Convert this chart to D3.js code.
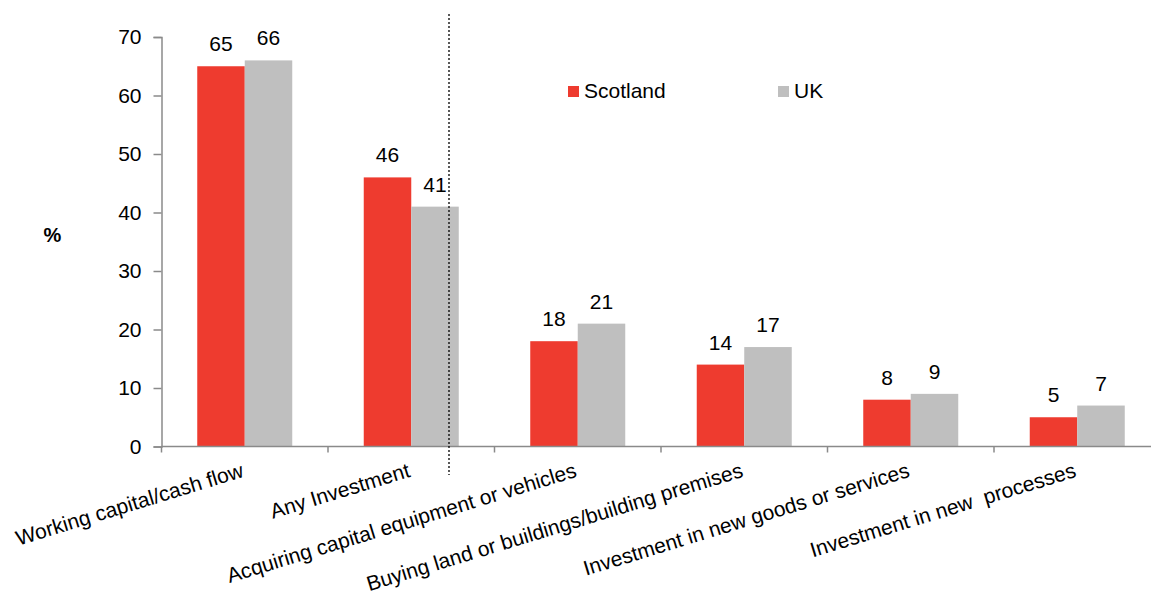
<!DOCTYPE html>
<html><head><meta charset="utf-8">
<script src="https://cdn.jsdelivr.net/npm/d3@7"></script>
<style>body{margin:0;background:#fff}svg{display:block;font-family:"Liberation Sans",Arial,sans-serif}</style>
</head><body>
<svg id="c" width="1151" height="595"></svg>
<script>
const categories = ["Working capital/cash flow","Any Investment","Acquiring capital equipment or vehicles","Buying land or buildings/building premises","Investment in new goods or services","Investment in new  processes"];
const seriesNames = ["Scotland","UK"];
const scotland = [65,46,18,14,8,5];
const uk = [66,41,21,17,9,7];
const yTicks = [0,10,20,30,40,50,60,70];
const colors = ["#EE3B2F","#BFBFBF"];

const svg = d3.select("#c");
const x0 = 161.5, bandW = 166.5;
const x = d3.scaleBand().domain(categories).range([x0, x0 + bandW*categories.length]).paddingInner(0).paddingOuter(0);
const xs = d3.scaleBand().domain(seriesNames).range([0, bandW]).paddingInner(0).paddingOuter(0.7526);
const y = d3.scaleLinear().domain([0,70]).range([446.5,37]);
const axisCol = "#8A8A8A";
const fs = 21;

// bars
const data = [scotland, uk];
data.forEach((vals, si) => {
  svg.append("g").selectAll("rect").data(vals).join("rect")
    .attr("x", (d,i) => x(categories[i]) + xs(seriesNames[si]))
    .attr("width", xs.bandwidth())
    .attr("y", d => y(d))
    .attr("height", d => y(0) - y(d))
    .attr("fill", colors[si]);
  svg.append("g").selectAll("text").data(vals).join("text")
    .attr("x", (d,i) => x(categories[i]) + xs(seriesNames[si]) + xs.bandwidth()/2)
    .attr("y", d => y(d) - 15)
    .attr("text-anchor","middle").attr("font-size",fs).attr("fill","#000")
    .text(d => d);
});

// y axis
const yAxis = d3.axisLeft(y).tickValues(yTicks).tickSize(8).tickPadding(12);
const gy = svg.append("g").attr("transform",`translate(${x0},0)`).call(yAxis);
gy.select(".domain").attr("stroke",axisCol).attr("stroke-width",1.5);
gy.selectAll(".tick line").attr("stroke",axisCol).attr("stroke-width",1.5);
gy.selectAll(".tick text").attr("font-size",fs).attr("fill","#000").attr("font-family","Liberation Sans, Arial, sans-serif");

// x axis
const boundaries = d3.range(categories.length+1).map(i => x0 + i*bandW);
svg.append("line").attr("x1",x0).attr("x2",x0+bandW*categories.length).attr("y1",y(0)).attr("y2",y(0)).attr("stroke",axisCol).attr("stroke-width",1.5);
svg.append("g").selectAll("line").data(boundaries).join("line")
  .attr("x1",d=>d).attr("x2",d=>d).attr("y1",y(0)).attr("y2",y(0)+6)
  .attr("stroke",axisCol).attr("stroke-width",1.5);
svg.append("g").selectAll("text").data(categories).join("text")
  .attr("transform", d => `translate(${x(d)+bandW/2},${y(0)+30}) rotate(-17)`)
  .attr("text-anchor","end").attr("font-size",fs).attr("fill","#000")
  .style("white-space","pre")
  .text(d => d);

// dotted separator
svg.append("line").attr("x1",449).attr("x2",449).attr("y1",14).attr("y2",475)
  .attr("stroke","#000").attr("stroke-width",1.3).attr("stroke-dasharray","2,2");

// y label
svg.append("text").attr("x",52.5).attr("y",242).attr("text-anchor","middle")
  .attr("font-size",20).attr("font-weight","bold").text("%");

// legend
const legX = [568, 778];
seriesNames.forEach((n,i) => {
  svg.append("rect").attr("x",legX[i]).attr("y",86).attr("width",11).attr("height",11).attr("fill",colors[i]);
  svg.append("text").attr("x",legX[i]+16).attr("y",97.5).attr("font-size",fs).text(n);
});
</script>
</body></html>
